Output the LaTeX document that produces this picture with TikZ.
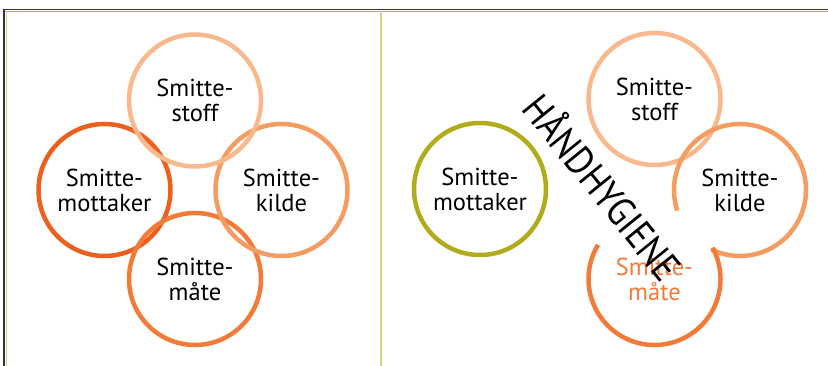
\documentclass[tikz,border=0pt]{standalone}
\usepackage{fontspec}
\setmainfont{PT Sans}
\definecolor{cStoff}{HTML}{F9B98C}
\definecolor{cKilde}{HTML}{F59C63}
\definecolor{cMott}{HTML}{EE5F1E}
\definecolor{cMate}{HTML}{F37B38}
\definecolor{cOlive}{HTML}{B0AC1C}
\definecolor{cDiv}{HTML}{D6D688}
\definecolor{cTopOl}{HTML}{B8B42A}
\definecolor{cDark}{HTML}{333333}
\begin{document}
\begin{tikzpicture}[x=1pt,y=1pt,
  ring/.style={circle, minimum size=132pt, inner sep=0pt, line width=4.5pt, align=center,
     font=\fontsize{24.5}{25}\selectfont},
  arcline/.style={line width=4.5pt}]
\useasboundingbox (0,0) rectangle (828,-366);
% frame
\draw[cDark, line width=1.6pt] (3,-9.5) -- (828,-9.5);
\draw[cTopOl, line width=1.4pt] (5,-11.4) -- (828,-11.4);
\draw[cDark, line width=2pt] (4,-8.7) -- (4,-366);
\draw[cDiv, line width=1pt] (6,-11) -- (6,-366);
\draw[cDiv, line width=2pt] (381,-11) -- (381,-366);
% left diagram
\node[ring, draw=cMott] (mott1) at (104.5,-190) {Smitte-\\mottaker};
\node[ring, draw=cMate] (mate1) at (195,-279) {Smitte-\\måte};
\node[ring, draw=cKilde] (kilde1) at (281.5,-190) {Smitte-\\kilde};
\node[ring, draw=cStoff] (stoff1) at (195,-100.5) {Smitte-\\stoff};
% right diagram
\node[ring, draw=cOlive] (mott2) at (480,-189) {Smitte-\\mottaker};
\node[ring, draw=cStoff] (stoff2) at (654.5,-99) {Smitte-\\stoff};
\node[ring] (kilde2) at (740,-190) {Smitte-\\kilde};
\node[ring, text=cMate] (mate2) at (654.5,-279) {Smitte-\\måte};
\draw[arcline, cKilde] ([shift={(244.2:66)}]kilde2.center) arc[start angle=244.2, end angle=558.2, radius=66];
\draw[arcline, cMate] ([shift={(28.3:66)}]mate2.center) arc[start angle=28.3, end angle=-211.2, radius=66];
\node[rotate=-51, font=\fontsize{36}{36}\selectfont, inner sep=0pt] (hand) at (604,-186)
  {\scalebox{0.97}[1.12]{HÅNDHYGIENE}};
\end{tikzpicture}
\end{document}
